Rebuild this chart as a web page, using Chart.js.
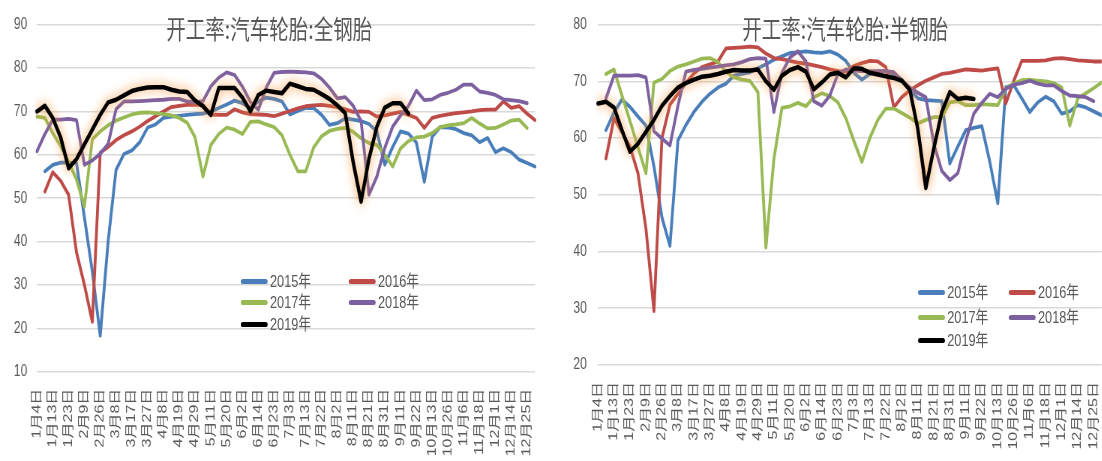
<!DOCTYPE html>
<html lang="zh-CN">
<head>
<meta charset="utf-8">
<title>开工率:汽车轮胎</title>
<script src="https://cdn.jsdelivr.net/npm/chart.js@4.4.1/dist/chart.umd.min.js"></script>
<style>
  html, body { margin:0; padding:0; background:#fff; width:1102px; height:461px; overflow:hidden; }
  /* both panels are laid out on a wider stage, then condensed horizontally */
  #stage { position:absolute; left:0; top:0; width:1469px; height:461px; transform:scaleX(0.75); transform-origin:0 0; }
  canvas { position:absolute; top:0; }
  #cAll { left:0; }
  #cSemi { left:733px; }
  .title { position:absolute; top:15px; font:26px/1 'Noto Sans CJK SC', sans-serif; color:#595959; white-space:nowrap; transform:translateX(-50%); }
  .item { position:absolute; height:22px; display:flex; align-items:center; font:17px/1 'Liberation Sans','Noto Sans CJK SC',sans-serif; color:#595959; white-space:nowrap; }
  .swatch { width:36px; height:5px; border-radius:3px; margin-right:3px; }
</style>
</head>
<body>
<div id="stage">
  <canvas id="cAll" width="733" height="461"></canvas>
  <canvas id="cSemi" width="736" height="461"></canvas>
  <div class="title" style="left:359px">开工率:汽车轮胎:全钢胎</div>
  <div class="title" style="left:1127px">开工率:汽车轮胎:半钢胎</div>
</div>
<script>
// Date labels shown on the x axis (every other weekly slot carries a label)
const tickLabels = ['1月4日','1月13日','1月23日','2月9日','2月26日','3月8日','3月17日','3月27日',
  '4月8日','4月19日','4月29日','5月11日','5月20日','6月2日','6月14日','6月23日',
  '7月3日','7月13日','7月22日','8月2日','8月11日','8月21日','8月31日','9月11日',
  '9月22日','10月13日','10月26日','11月6日','11月18日','12月1日','12月14日','12月25日'];

const years = ['2015年','2016年','2017年','2018年','2019年'];

// 全钢胎 operating rate (%)
const allSteel2015 = [null,56.2,57.7,58.2,58.2,58.1,45.6,33.1, 18.3,40,56.5,60.2,61,62.9,66.3,67,
  68.5,68.8,69,69.2,69.4,69.5,70,70.8, 71.6,72.5,71.9,70.8,72.3,73.2,72.9,72.3,
  69.3,70.1,70.8,70.8,69.2,66.9,67.3,68.4, 68.1,67.8,67.1,65.4,57.7,61.8,65.4,64.9,
  62.8,53.8,64.2,66.4,66.3,65.9,65,64.5, 62.9,63.9,60.6,61.5,60.6,58.9,58.1,57.3];
const allSteel2016 = [null,51.5,56,54,50.8,37.5,30,21.5, 60.5,61.8,63.4,64.5,65.4,66.5,67.8,68.9,
  70,71,71.3,71.5,71.5,71.5,69.3,69.2, 69.2,70.5,69.8,69.4,69.3,69.2,68.9,69.5,
  70.1,70.7,71.2,71.4,71.5,71.3,71,70.5, 69.9,70,69.9,68.8,69.1,69.5,69.9,69.2,
  68.5,66.2,68.5,69,69.3,69.6,69.8,70, 70.3,70.4,70.4,72.3,70.8,71.2,69.5,68];
const allSteel2017 = [68.8,68.5,65,62,58.4,54.3,48.1,63.6, 65.4,66.8,67.9,68.6,69.3,69.7,69.8,69.6,
  69.4,69.1,68.5,67.4,64,55,62.3,64.8, 66.3,65.8,64.8,67.6,67.7,67,66.4,64.5,
  60,56.2,56.2,61.7,64.3,65.5,66,66.2, 65.3,63.8,62.7,62.3,60,57.3,61.5,63.2,
  64,64.2,65,66.4,66.8,67,67.3,68.5, 67.2,66.1,66.2,67,67.9,68.1,66.2];
const allSteel2018 = [60.8,64.8,68.1,68.1,68.3,68,57.7,58.7, 60.2,62.5,70.5,72.3,72.3,72.4,72.5,72.6,
  72.7,72.9,72.9,72.3,72.1,72.4,75.8,77.8, 79,78.4,75.7,72.2,70.4,75.5,78.9,79.1,
  79.2,79.1,79,78.8,77.5,75.5,73,73.3, 71.3,67.8,50.8,55,61.6,66.5,69.1,71.3,
  74.8,72.6,72.8,73.8,74.3,75,76.2,76.2, 74.6,74.3,73.8,72.8,72.6,72.4,71.9];
const allSteel2019 = [70,71.3,68.5,64,56.9,59,62.4,65.8, 69.2,72.1,72.7,73.7,74.7,75.2,75.5,75.6,
  75.6,75,74.6,74.5,72.5,71.2,69.2,75.4, 75.4,75.4,73.2,70,73.8,74.8,74.5,74.2,
  76.4,75.8,75.2,75,74,72.9,71.4,69.6, 58.3,49.2,59.1,66.5,70.9,71.9,71.9,69.5];

// 半钢胎 operating rate (%)
const semiSteel2015 = [null,61.4,64.5,66.8,65.5,63.8,62.2,55, 46,41,59.6,62.3,64.6,66.4,67.8,68.9,
  69.6,71,71.3,71.6,72.3,73,73.8,74.4, 75,75.1,75.3,75.1,75,75.3,74.7,73.6,
  71.5,70.3,71.3,71.8,71.8,71.3,70.3,68.5, 67,66.7,66.6,66.5,55.5,58.5,61.4,61.8,
  62.1,55.8,48.5,69,69.3,67,64.6,66.3, 67.3,66.5,64.3,64.7,65.8,65.4,64.7,64];
const semiSteel2016 = [null,56.4,63.5,61,58.5,53.8,44,29.5, 60,65.9,67.8,69.7,71.4,72.5,73,73.5,
  75.8,75.9,76,76.1,76,74.9,74.1,73.9, 73.6,73.3,73.1,72.8,72.5,72.1,71.8,71.7,
  72.7,73.2,73.6,73.5,72.5,65.4,67.2,68.4, 69.3,70.1,70.7,71.3,71.5,71.8,72.1,72,
  71.9,72.1,72.3,66.1,70.1,73.6,73.6,73.6, 73.7,74,74.1,73.9,73.7,73.6,73.5,73.5];
const semiSteel2017 = [null,71.3,72.1,67.5,63,58.4,53.8,69.8, 70.4,71.8,72.6,73,73.5,74,74.1,73.4,
  71.7,70.7,70.3,70.1,68.1,40.7,56.3,65.3, 65.6,66.2,65.6,67.2,67.9,67.4,66.3,63.5,
  59.5,55.8,60,63.2,65.2,65.2,64.4,63.6, 62.6,63.2,63.7,63.7,66.3,66.5,65.8,65.8,
  66,65.9,65.8,68.8,69.6,70.2,70.3,70.1, 70,69.7,68.9,62.2,67,67.9,68.8,69.8];
const semiSteel2018 = [null,67,71,71,71,71.1,70.7,61.2, 59.9,58.7,65.7,71.7,72,72.2,72.4,72.6,
  72.8,73,73.4,73.9,74.1,74,64.6,71.5, 74.2,75.3,73.5,66.5,65.7,67.5,71.3,72.1,
  71.9,71.8,71.8,71.8,71.8,71.6,70.2,68.9, 68,67.2,59,54.2,52.6,53.8,59.5,64.3,
  66.2,67.8,67.2,68.7,69.4,69.7,70.1,69.6, 69.3,69.3,68.3,67.5,67.4,67.2,66.5];
const semiSteel2019 = [66.1,66.4,65.4,61.4,57.6,59,61.1,63.2, 65.7,67.4,68.9,69.7,70.3,70.8,71,71.3,
  71.7,72,71.9,71.9,72.1,70,68.5,71, 72,72.5,71.7,68.6,69.8,71.2,71.5,70.7,
  72.3,72.2,71.5,71.2,70.9,70.6,70.1,68.5, 61.6,51.2,58.2,64.6,68.1,66.9,67.1,66.9];

const yearColors = ['#4a7ebb', '#be4b48', '#98b954', '#7d60a0', '#000000'];

// weekly slots: each labelled date followed by an unlabelled one
const categories = [];
tickLabels.forEach(t => { categories.push(t); categories.push(''); });

Chart.defaults.font.family = "'Liberation Sans', 'Noto Sans CJK SC', sans-serif";
Chart.defaults.color = '#595959';

// orange halo around the 2019 line
const lineGlow = {
  id: 'lineGlow',
  beforeDatasetDraw(chart, args) {
    const ds = chart.data.datasets[args.index];
    if (!ds.glowColor) return;
    const ctx = chart.ctx;
    ctx.save();
    ctx.shadowColor = ds.glowColor;
    ctx.shadowBlur = 12;
  },
  afterDatasetDraw(chart, args) {
    if (chart.data.datasets[args.index].glowColor) chart.ctx.restore();
  }
};

function buildDatasets(seriesList) {
  return seriesList.map((vals, i) => ({
    label: years[i],
    data: vals,
    borderColor: yearColors[i],
    backgroundColor: yearColors[i],
    borderWidth: i === 4 ? 4.5 : 3.8,
    pointRadius: 0,
    tension: 0,
    fill: false,
    borderCapStyle: 'round',
    borderJoinStyle: 'round',
    order: 4 - i,
    glowColor: i === 4 ? 'rgba(247,150,60,1)' : undefined
  }));
}

function makeChart(id, seriesList, yMin, yMax, geo) {
  return new Chart(document.getElementById(id), {
    type: 'line',
    data: { labels: categories, datasets: buildDatasets(seriesList) },
    options: {
      responsive: false,
      devicePixelRatio: 1,
      animation: false,
      layout: { padding: { top: geo.top, right: geo.right, left: 0, bottom: 0 } },
      plugins: { legend: { display: false }, tooltip: { enabled: false }, title: { display: false } },
      scales: {
        x: {
          type: 'category',
          offset: false,
          grid: { display: false, drawTicks: false },
          border: { display: false },
          ticks: { autoSkip: false, maxRotation: 90, minRotation: 90, padding: geo.xPad, color: '#595959', font: { size: 16 } },
          afterFit(s) { s.height = geo.xh; s.paddingLeft = 0; s.paddingRight = 0; }
        },
        y: {
          min: yMin, max: yMax,
          grid: { color: '#d9d9d9', lineWidth: 1.6, drawTicks: false },
          border: { display: false },
          ticks: { stepSize: 10, padding: geo.yPad, color: '#595959', font: { size: 16 } },
          afterFit(s) { s.width = geo.yw; }
        }
      }
    },
    plugins: [lineGlow]
  });
}

makeChart('cAll', [allSteel2015, allSteel2016, allSteel2017, allSteel2018, allSteel2019], 10, 90,
  { top: 24.7, right: 19.7, xh: 89.3, yw: 49.3, yPad: 13, xPad: 17 });
makeChart('cSemi', [semiSteel2015, semiSteel2016, semiSteel2017, semiSteel2018, semiSteel2019], 20, 80,
  { top: 21.7, right: 0, xh: 96, yw: 64.3, yPad: 15, xPad: 17 });

// legends laid out in two columns inside each plot
function addLegend(colX, rowY) {
  const stage = document.getElementById('stage');
  years.forEach((name, i) => {
    const el = document.createElement('div');
    el.className = 'item';
    el.style.left = colX[i % 2] + 'px';
    el.style.top = (rowY[Math.floor(i / 2)] - 11) + 'px';
    const sw = document.createElement('span');
    sw.className = 'swatch';
    sw.style.background = yearColors[i];
    const tx = document.createElement('span');
    tx.textContent = name;
    el.appendChild(sw); el.appendChild(tx);
    stage.appendChild(el);
  });
}
addLegend([321, 465], [281, 302, 324]);
addLegend([1224, 1345], [292, 317, 340]);
</script>
</body>
</html>
